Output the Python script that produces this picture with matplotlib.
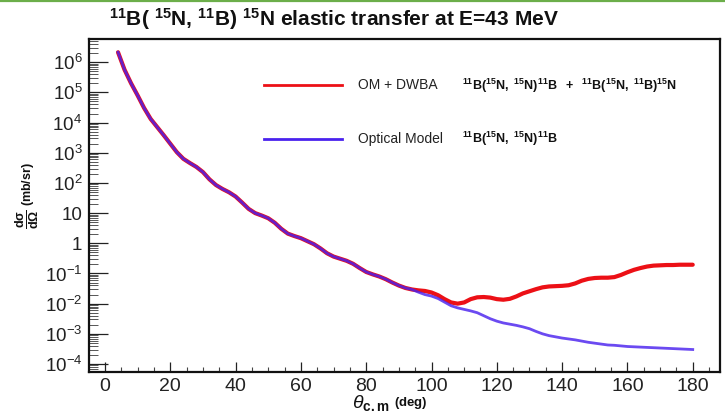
import numpy as np
import matplotlib
matplotlib.use("Agg")
import matplotlib.pyplot as plt
from matplotlib.ticker import FixedLocator, LogLocator, MultipleLocator, NullFormatter
from matplotlib.lines import Line2D
from matplotlib import font_manager

names = {f.name for f in font_manager.fontManager.ttflist}
NARROW = 'Liberation Sans Narrow' if 'Liberation Sans Narrow' in names else 'Liberation Sans'

plt.rcParams['font.family'] = ['Liberation Sans', 'DejaVu Sans']
plt.rcParams['mathtext.fontset'] = 'custom'
plt.rcParams['mathtext.rm'] = 'Liberation Sans'
plt.rcParams['mathtext.it'] = 'Liberation Sans:italic'
plt.rcParams['mathtext.bf'] = 'Liberation Sans:bold'

# ---- data, log10 of dsigma/dOmega in mb/sr ----
angle_common = [4, 6, 8, 10, 12, 14, 16, 18, 20, 22, 24, 26, 28, 30, 32, 34, 36, 38,
                40, 42, 44, 46, 48, 50, 52, 54, 56, 58, 60, 62, 64, 66, 68, 70, 72,
                74, 76, 78, 80, 82, 84, 86, 88, 90, 92, 94]
log_common = [6.33, 5.75, 5.30, 4.90, 4.48, 4.12, 3.85, 3.58, 3.30, 3.02, 2.80, 2.66,
              2.53, 2.36, 2.12, 1.93, 1.80, 1.69, 1.55, 1.35, 1.14, 1.00, 0.92, 0.83,
              0.68, 0.48, 0.32, 0.24, 0.17, 0.07, -0.03, -0.17, -0.33, -0.44, -0.51,
              -0.58, -0.68, -0.82, -0.95, -1.03, -1.10, -1.19, -1.30, -1.40, -1.48, -1.53]
angle_tail = [96, 98, 100, 102, 104, 106, 108, 110, 112, 114, 116, 118, 120, 122, 124,
              126, 128, 130, 132, 134, 136, 138, 140, 142, 144, 146, 148, 150, 152, 154,
              156, 158, 160, 162, 164, 166, 168, 170, 172, 174, 176, 178, 180]
log_dwba_tail = [-1.56, -1.58, -1.63, -1.72, -1.85, -1.96, -2.00, -1.96, -1.85, -1.79,
                 -1.78, -1.80, -1.85, -1.87, -1.84, -1.76, -1.66, -1.59, -1.52, -1.46,
                 -1.43, -1.42, -1.41, -1.39, -1.33, -1.24, -1.18, -1.15, -1.14, -1.14,
                 -1.12, -1.05, -0.96, -0.88, -0.82, -0.77, -0.74, -0.73, -0.72, -0.72,
                 -0.71, -0.71, -0.71]
log_om_tail = [-1.62, -1.70, -1.75, -1.83, -1.95, -2.07, -2.14, -2.19, -2.24, -2.30,
               -2.40, -2.50, -2.58, -2.64, -2.68, -2.72, -2.77, -2.83, -2.92, -3.00,
               -3.06, -3.10, -3.14, -3.17, -3.20, -3.24, -3.28, -3.31, -3.34, -3.37,
               -3.38, -3.40, -3.42, -3.43, -3.44, -3.45, -3.46, -3.47, -3.48, -3.49,
               -3.50, -3.51, -3.52]

x_ticks = [0, 20, 40, 60, 80, 100, 120, 140, 160, 180]
y_ticks = [1e-4, 1e-3, 1e-2, 1e-1, 1, 10, 1e2, 1e3, 1e4, 1e5, 1e6]
y_ticklabels = [r'$10^{-4}$', r'$10^{-3}$', r'$10^{-2}$', r'$10^{-1}$', '1', '10',
                r'$10^{2}$', r'$10^{3}$', r'$10^{4}$', r'$10^{5}$', r'$10^{6}$']

angle = np.array(angle_common + angle_tail)
sigma_dwba = 10 ** np.array(log_common + log_dwba_tail)
sigma_om = 10 ** np.array(log_common + log_om_tail)

RED = '#ec1016'
BLUE = '#4a22ee'

W, H = 725, 412
fig = plt.figure(figsize=(W / 100, H / 100), dpi=100)
ax = fig.add_axes([89.3 / W, 1 - 372 / H, (719.5 - 89.3) / W, (372 - 39) / H])

ax.plot(angle, sigma_dwba, color=RED, lw=3.0, solid_capstyle='round', zorder=3)
ax.plot(angle, sigma_om, color=BLUE, lw=2.0, alpha=0.82, zorder=4)

ax.set_yscale('log')
ax.set_xlim(-4.8, 188.2)
ax.set_ylim(10 ** -4.265, 10 ** 6.77)

ax.xaxis.set_major_locator(FixedLocator(x_ticks))
ax.xaxis.set_minor_locator(MultipleLocator(5))
ax.set_xticklabels([str(v) for v in x_ticks])
ax.yaxis.set_major_locator(FixedLocator(y_ticks))
ax.set_yticklabels(y_ticklabels)
ax.yaxis.set_minor_locator(LogLocator(base=10, subs=np.arange(2, 10), numticks=30))
ax.yaxis.set_minor_formatter(NullFormatter())

ax.tick_params(axis='x', which='major', direction='in', length=7.2, width=0.9,
               labelsize=14, pad=4, colors='#222222')
ax.tick_params(axis='x', which='minor', direction='in', length=3.6, width=0.8,
               colors='#444444')
ax.tick_params(axis='y', which='major', direction='in', length=13.5, width=0.9,
               labelsize=13.5, pad=5, colors='#222222')
ax.tick_params(axis='y', which='minor', direction='in', length=6.5, width=0.7,
               colors='#555555')
ax.tick_params(top=False, right=False)
for s in ax.spines.values():
    s.set_linewidth(1.6)
    s.set_color('#111111')

# legend drawn as in the source
fig.add_artist(Line2D([263.5 / W, 341.5 / W], [1 - 85.4 / H] * 2, color=RED, lw=2.0))
fig.add_artist(Line2D([263.5 / W, 341.5 / W], [1 - 138.6 / H] * 2, color=BLUE, lw=2.0))
fig.text(358 / W, 1 - 85.4 / H, 'OM + DWBA', fontsize=10, va='center', ha='left',
         color='#222222')
fig.text(358 / W, 1 - 138.6 / H, 'Optical Model', fontsize=10, va='center', ha='left',
         color='#222222')
fig.text(462 / W, 1 - 85.4 / H,
         r'$\mathbf{^{11}B(^{15}N,\ ^{15}N)^{11}B\ \ +\ \ ^{11}B(^{15}N,\ ^{11}B)^{15}N}$',
         fontsize=9, va='center', ha='left', color='#111111')
fig.text(462 / W, 1 - 138.6 / H, r'$\mathbf{^{11}B(^{15}N,\ ^{15}N)^{11}B}$',
         fontsize=9, va='center', ha='left', color='#111111')

# title (bold, narrow face)
fig.text(109 / W, 1 - 19 / H,
         r'$^{\mathbf{11}}$B( $^{\mathbf{15}}$N, $^{\mathbf{11}}$B) $^{\mathbf{15}}$N elastic transfer at E=43 MeV',
         fontsize=15, fontweight='bold', family=[NARROW, 'Liberation Sans', 'DejaVu Sans'],
         ha='left', va='center', color='#111111')

# axis labels
fig.text(27 / W, 1 - 219 / H, r'$\mathbf{\frac{d\sigma}{d\Omega}}$',
         fontsize=13, rotation=90, ha='center', va='center', color='#111111')
fig.text(28 / W, 1 - 184 / H, r'$\mathbf{(mb/sr)}$',
         fontsize=9, rotation=90, ha='center', va='center', color='#111111')
fig.text(389 / W, 1 - 403 / H, r'$\theta_{\mathbf{c.m}}$', fontsize=14, ha='right',
         va='center', color='#111111')
fig.text(394 / W, 1 - 403 / H, r'$\mathbf{(deg)}$', fontsize=9.5, ha='left',
         va='center', color='#111111')

# green border line at the top
fig.add_artist(Line2D([0, 1], [1 - 0.8 / H] * 2, color='#6cae4a', lw=1.6))

fig.savefig('out.png', dpi=100)
